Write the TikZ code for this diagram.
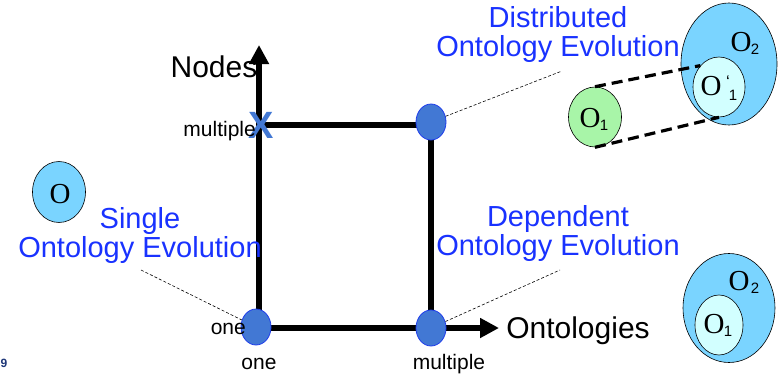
\documentclass[tikz,border=0pt]{standalone}
\usepackage{fontspec}
\setmainfont{Liberation Sans}
\newfontfamily\serifO{Liberation Serif}
\usetikzlibrary{shapes.geometric,arrows.meta}
\definecolor{labelblue}{RGB}{25,50,255}
\definecolor{dotblue}{RGB}{66,120,212}
\definecolor{dotedge}{RGB}{30,60,235}
\definecolor{skyfill}{RGB}{122,212,255}
\definecolor{palefill}{RGB}{210,255,255}
\definecolor{greenfill}{RGB}{168,245,168}
\definecolor{pagenum}{RGB}{30,55,120}
\tikzset{
  axis/.style={line width=5.5pt},
  axisarrow/.style={axis,-{Triangle[length=19pt,width=19pt]}},
  frame/.style={line width=5.5pt},
  dot/.style={ellipse,draw=dotedge,fill=dotblue,line width=0.8pt,minimum width=30pt,minimum height=36pt,inner sep=0pt},
  onto/.style={ellipse,draw=black,line width=0.6pt,inner sep=0pt},
  kind/.style={text=labelblue,font=\fontsize{29}{29}\selectfont,align=center,inner sep=0pt},
  tick/.style={font=\fontsize{21}{24}\selectfont,inner sep=0pt},
  axisname/.style={font=\fontsize{30}{32}\selectfont,inner sep=0pt},
  pointer/.style={line width=0.6pt,dash pattern=on 3pt off 2pt},
  link/.style={line width=3.2pt,dash pattern=on 11pt off 6pt},
  oglyph/.style={font=\serifO\fontsize{29}{30}\selectfont,inner sep=0pt},
  osub/.style={font=\fontsize{15}{16}\selectfont,inner sep=0pt}
}
\begin{document}
\begin{tikzpicture}[x=1pt,y=-1pt]
\useasboundingbox (0,0) rectangle (782,375);

% corner points of the frame
\coordinate (ytip) at (259,45);
\coordinate (xtip) at (499,328);
\coordinate (ml) at (259,125);

% the two axes and the frame
\draw[axisarrow] (259,332) -- (ytip);
\draw[axisarrow] (256,328) -- (xtip);
\draw[frame] (ml) -- (431,125) -- (431,331);

% points of the kinds of evolution
\node[dot] (d00) at (256,327) {};
\node[dot] (d10) at (431,328) {};
\node[dot] (d11) at (431,122) {};

% cross on the Nodes axis
\node[text=dotblue,font=\fontsize{38}{38}\selectfont\bfseries,inner sep=0pt] (cross) at (261,125) {X};

% axis names and ticks
\node[axisname] (nodes) at (214,67) {Nodes};
\node[axisname] (ontos) at (578,331) {Ontologies};
\node[tick,anchor=east] (ymult) at (256,131) {multiple};
\node[tick,anchor=east] (yone) at (246,329) {one};
\node[tick,anchor=base] (xone) at (259,369) {one};
\node[tick,anchor=base] (xmult) at (449,369) {multiple};

% names of the evolution kinds
\node[kind] (dist) at (558,35) {Distributed\\Ontology Evolution};
\node[kind] (single) at (140,235) {Single\\Ontology Evolution};
\node[kind] (dep) at (558,233) {Dependent\\Ontology Evolution};

\coordinate (distend) at (562,71);
\coordinate (singleend) at (141,270);
\coordinate (depend) at (560,270);
\draw[pointer] (d11) -- (distend);
\draw[pointer] (singleend) -- (d00);
\draw[pointer] (d10) -- (depend);

% single ontology
\node[onto,fill=skyfill,minimum width=53pt,minimum height=61pt] (o) at (59,192) {};
\node[oglyph] (oname) at (60,194) {O};

% distributed ontologies
\node[onto,fill=skyfill,minimum width=96pt,minimum height=122pt] (o2a) at (729,64) {};
\node[onto,fill=palefill,minimum width=52pt,minimum height=60pt] (o1p) at (719,87) {};
\node[onto,fill=greenfill,minimum width=53pt,minimum height=60pt] (o1a) at (595,117) {};
\node[oglyph] (o2aname) at (741,42) {O};
\node[osub] (o2asub) at (755,49) {2};
\node[oglyph] (o1pname) at (711,86) {O};
\node[osub,font=\fontsize{17}{17}\selectfont] (o1pmark) at (728,82) {‘};
\node[osub] (o1psub) at (733,95) {1};
\node[oglyph] (o1aname) at (590,118) {O};
\node[osub] (o1asub) at (604,125) {1};
\draw[link] (o1a.north) -- (o1p.north west);
\draw[link] (o1a.south) -- (o1p.south);

% dependent ontologies
\node[onto,fill=skyfill,minimum width=92pt,minimum height=109pt] (o2b) at (729,308) {};
\node[onto,fill=palefill,minimum width=48pt,minimum height=60pt] (o1b) at (719,325) {};
\node[oglyph] (o2bname) at (739,281) {O};
\node[osub] (o2bsub) at (755,288) {2};
\node[oglyph] (o1bname) at (714,324) {O};
\node[osub] (o1bsub) at (728,331) {1};

% page number
\node[text=pagenum,font=\fontsize{12}{12}\selectfont\bfseries,inner sep=0pt] (pg) at (4,363) {9};
\end{tikzpicture}
\end{document}
